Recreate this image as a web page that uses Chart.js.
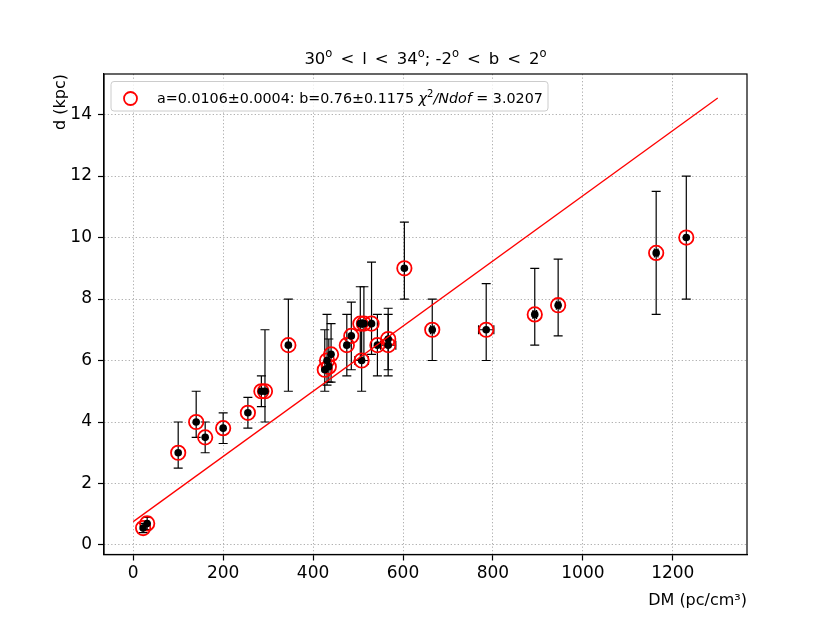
<!DOCTYPE html>
<html>
<head>
<meta charset="utf-8">
<script src="https://cdn.jsdelivr.net/npm/chart.js@4/dist/chart.umd.min.js"></script>
<style>
    html, body { margin: 0; padding: 0; background: #fff; }
    #wrap { width: 830px; height: 623px; }
</style>
</head>
<body>
<div id="wrap"><canvas id="dmChart" width="830" height="623"></canvas></div>
<script>
// DM (pc/cm^3) and distance (kpc)
const DM = [22, 31, 100, 140, 160, 200, 255, 285, 293, 345,
    426, 431, 435, 440, 475, 485, 505, 508, 513, 530,
    543, 567, 567, 603, 665, 785, 893, 945, 1163, 1230];
const DIST = [0.55, 0.7, 3.0, 4.0, 3.5, 3.8, 4.3, 5.0, 5.0, 6.5,
    5.7, 6.0, 5.8, 6.2, 6.5, 6.8, 7.2, 6.0, 7.2, 7.2,
    6.5, 6.7, 6.5, 9.0, 7.0, 7.0, 7.5, 7.8, 9.5, 10.0];
const DIST_ERR_UP = [0.15, 0.2, 1.0, 1.0, 0.5, 0.5, 0.5, 0.5, 2.0, 1.5,
    1.3, 1.5, 0.9, 1.0, 1.0, 1.1, 1.2, 1.0, 1.2, 2.0,
    1.0, 1.0, 1.0, 1.5, 1.0, 1.5, 1.5, 1.5, 2.0, 2.0];
const DIST_ERR_DOWN = [0.15, 0.2, 0.5, 0.5, 0.5, 0.5, 0.5, 0.5, 1.0, 1.5,
    0.7, 0.8, 0.5, 0.9, 1.0, 1.1, 1.2, 1.0, 1.2, 1.0,
    1.0, 1.0, 1.0, 1.0, 1.0, 1.0, 1.0, 1.0, 2.0, 2.0];
const DM_ERR = [0, 0, 0, 0, 0, 0, 0, 0, 0, 0,
    0, 0, 0, 0, 0, 0, 4, 15, 4, 0,
    0, 0, 17, 0, 4, 17, 4, 4, 4, 0];

// fitted line end points
const FIT_DM = [0, 1300];
const FIT_DIST = [0.76, 14.54];

const X_TICKS = [0, 200, 400, 600, 800, 1000, 1200];
const Y_TICKS = [0, 2, 4, 6, 8, 10, 12, 14];

const FONT = 'DejaVu Sans';

// draws a row of text pieces (normal, italic, superscript, fixed gaps)
function drawRuns(ctx, runs, x, y, align) {
    const widthOf = r => {
        if (r.gap) return r.gap;
        ctx.font = r.font;
        return ctx.measureText(r.text).width;
    };
    const total = runs.reduce((s, r) => s + widthOf(r), 0);
    let cx = align === 'center' ? x - total / 2 : x;
    runs.forEach(r => {
        if (!r.gap) {
            ctx.font = r.font;
            ctx.fillText(r.text, cx, y - (r.dy || 0));
        }
        cx += widthOf(r);
    });
}

const errorBars = {
    id: 'errorBars',
    beforeDatasetsDraw(chart) {
        const { ctx, scales: { x, y } } = chart;
        const cap = 4.5;
        ctx.save();
        ctx.strokeStyle = '#000';
        ctx.lineWidth = 1.2;
        DM.forEach((dm, i) => {
            const px = x.getPixelForValue(dm);
            const py = y.getPixelForValue(DIST[i]);
            const top = y.getPixelForValue(DIST[i] + DIST_ERR_UP[i]);
            const bot = y.getPixelForValue(DIST[i] - DIST_ERR_DOWN[i]);
            ctx.beginPath();
            ctx.moveTo(px, top); ctx.lineTo(px, bot);
            ctx.moveTo(px - cap, top); ctx.lineTo(px + cap, top);
            ctx.moveTo(px - cap, bot); ctx.lineTo(px + cap, bot);
            if (DM_ERR[i]) {
                const l = x.getPixelForValue(dm - DM_ERR[i]);
                const r = x.getPixelForValue(dm + DM_ERR[i]);
                ctx.moveTo(l, py); ctx.lineTo(r, py);
                ctx.moveTo(l, py - cap); ctx.lineTo(l, py + cap);
                ctx.moveTo(r, py - cap); ctx.lineTo(r, py + cap);
            }
            ctx.stroke();
        });
        ctx.restore();
    }
};

const frameAndLabels = {
    id: 'frameAndLabels',
    afterDraw(chart) {
        const { ctx, chartArea: a } = chart;
        ctx.save();
        ctx.strokeStyle = '#000';
        ctx.lineWidth = 1.2;
        ctx.strokeRect(a.left, a.top, a.right - a.left, a.bottom - a.top);

        // title
        ctx.fillStyle = '#000';
        ctx.textBaseline = 'alphabetic';
        const t = '16.5px "' + FONT + '"';
        const ts = '11.5px "' + FONT + '"';
        const g = { gap: 8 };
        drawRuns(ctx, [
            { text: '30', font: t }, { text: 'o', font: ts, dy: 7 },
            g, { text: '<', font: t }, g, { text: 'l', font: t }, g, { text: '<', font: t }, g,
            { text: '34', font: t }, { text: 'o', font: ts, dy: 7 },
            { text: '; -2', font: t }, { text: 'o', font: ts, dy: 7 },
            g, { text: '<', font: t }, g, { text: 'b', font: t }, g, { text: '<', font: t }, g,
            { text: '2', font: t }, { text: 'o', font: ts, dy: 7 },
        ], (a.left + a.right) / 2, 64, 'center');

        // legend
        const lx = a.left + 7, ly = a.top + 7.5, lw = 437, lh = 29.5;
        ctx.beginPath();
        ctx.roundRect(lx, ly, lw, lh, 3);
        ctx.fillStyle = 'rgba(255,255,255,0.8)';
        ctx.fill();
        ctx.strokeStyle = '#cccccc';
        ctx.lineWidth = 1;
        ctx.stroke();

        ctx.beginPath();
        ctx.arc(lx + 19.5, ly + 17, 6.5, 0, Math.PI * 2);
        ctx.strokeStyle = '#ff0000';
        ctx.lineWidth = 1.8;
        ctx.stroke();

        const n = '14.3px "' + FONT + '"';
        const it = 'italic 14.3px "' + FONT + '"';
        const s = '10px "' + FONT + '"';
        ctx.fillStyle = '#000';
        drawRuns(ctx, [
            { text: 'a=0.0106\u00b10.0004: b=0.76\u00b10.1175 ', font: n },
            { text: '\u03c7', font: it },
            { text: '2', font: s, dy: 6 },
            { text: '/Ndof', font: it },
            { text: ' = 3.0207', font: n },
        ], lx + 46, ly + 21.5, 'left');
        ctx.restore();
    }
};

function fixTicks(values) {
    return scale => { scale.ticks = values.map(v => ({ value: v })); };
}

const points = DM.map((dm, i) => ({ x: dm, y: DIST[i] }));
const fitLine = FIT_DM.map((dm, i) => ({ x: dm, y: FIT_DIST[i] }));

const grid = {
    color: '#b0b0b0',
    lineWidth: 1,
    tickColor: '#000',
    tickBorderDash: [],
    tickWidth: 1.2,
    tickLength: 6,
};
const border = { display: true, color: '#000', width: 1.2, dash: [1.3, 2.2] };
const tickFont = { family: FONT, size: 17 };
const labelFont = { family: FONT, size: 16 };

new Chart(document.getElementById('dmChart').getContext('2d'), {
    type: 'scatter',
    data: {
        datasets: [
            {
                type: 'line',
                data: fitLine,
                borderColor: '#ff0000',
                borderWidth: 1.3,
                pointRadius: 0,
                fill: false,
            },
            {
                data: points,
                pointStyle: 'circle',
                pointRadius: 3.8,
                backgroundColor: '#000',
                borderWidth: 0,
            },
            {
                data: points,
                pointStyle: 'circle',
                pointRadius: 7.2,
                backgroundColor: 'rgba(0,0,0,0)',
                borderColor: '#ff0000',
                borderWidth: 1.8,
            },
        ]
    },
    options: {
        responsive: false,
        animation: false,
        devicePixelRatio: 1,
        layout: { padding: { left: 47, right: 83, top: 74, bottom: 9 } },
        plugins: {
            legend: { display: false },
            tooltip: { enabled: false },
        },
        scales: {
            x: {
                type: 'linear',
                min: -65,
                max: 1365,
                afterBuildTicks: fixTicks(X_TICKS),
                afterFit: scale => { scale.height = 59.5; },
                grid: grid,
                border: border,
                ticks: { color: '#000', font: tickFont, padding: 3, maxRotation: 0, callback: v => String(v) },
                title: {
                    display: true, text: 'DM (pc/cm\u00b3)', align: 'end', color: '#000',
                    font: labelFont, padding: { top: 4, bottom: 4 }
                },
            },
            y: {
                type: 'linear',
                min: -0.31,
                max: 15.32,
                afterBuildTicks: fixTicks(Y_TICKS),
                afterFit: scale => { scale.width = 57; },
                grid: grid,
                border: border,
                ticks: { color: '#000', font: tickFont, padding: 6, callback: v => String(v) },
                title: {
                    display: true, text: 'd (kpc)', align: 'end', color: '#000',
                    font: labelFont, padding: { top: 4, bottom: 4 }
                },
            },
        },
    },
    plugins: [errorBars, frameAndLabels],
});
</script>
</body>
</html>
